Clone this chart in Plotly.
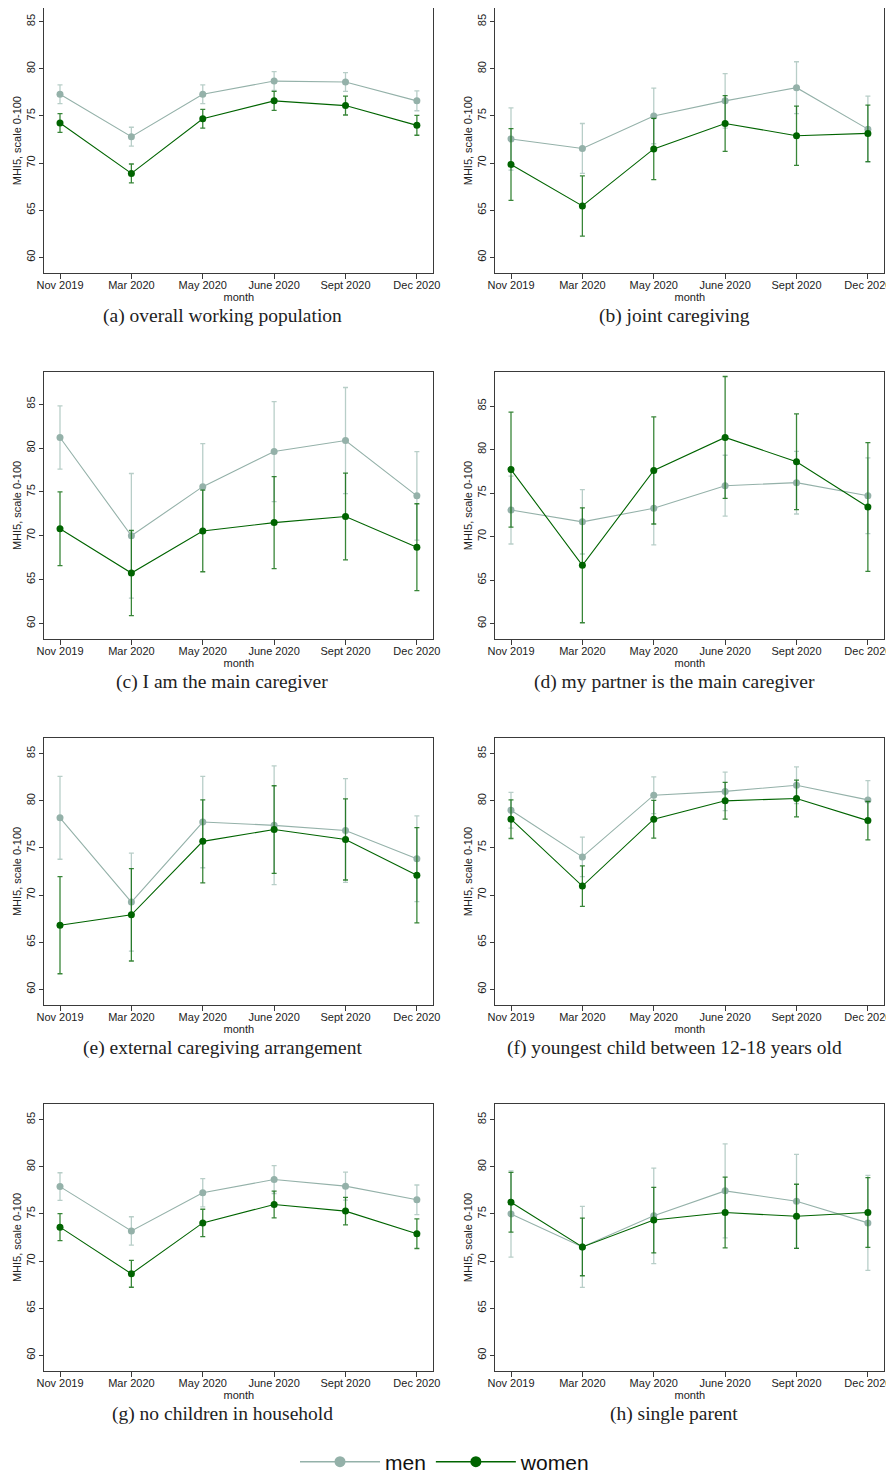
import plotly.graph_objects as go

PAGE_W, PAGE_H = 894, 1476
OFF = 8  # default page body margin
W, H = PAGE_W - OFF, PAGE_H - OFF

months = ["Nov 2019", "Mar 2020", "May 2020", "June 2020", "Sept 2020", "Dec 2020"]
captions = [
    "(a) overall working population",
    "(b) joint caregiving",
    "(c) I am the main caregiver",
    "(d) my partner is the main caregiver",
    "(e) external caregiving arrangement",
    "(f) youngest child between 12-18 years old",
    "(g) no children in household",
    "(h) single parent",
]

# mean MHI5 and 95% CI half-widths, men / women
a_men = [77.3, 72.8, 77.3, 78.7, 78.6, 76.6]
a_men_ci = [1.0, 1.0, 1.0, 1.0, 1.0, 1.05]
a_women = [74.25, 68.9, 74.7, 76.6, 76.1, 74.0]
a_women_ci = [1.0, 1.0, 1.0, 1.0, 1.0, 1.05]

b_men = [72.55, 71.55, 75.0, 76.6, 78.0, 73.6]
b_men_ci = [3.3, 2.65, 2.95, 2.9, 2.75, 3.5]
b_women = [69.85, 65.45, 71.5, 74.2, 72.9, 73.15]
b_women_ci = [3.8, 3.2, 3.25, 2.95, 3.15, 3.0]

c_men = [81.2, 70.0, 75.6, 79.6, 80.85, 74.55]
c_men_ci = [3.6, 7.1, 4.9, 5.7, 6.05, 5.05]
c_women = [70.8, 65.75, 70.55, 71.5, 72.2, 68.7]
c_women_ci = [4.2, 4.85, 4.65, 5.25, 4.95, 4.95]

d_men = [73.05, 71.7, 73.25, 75.85, 76.2, 74.7]
d_men_ci = [3.9, 3.7, 4.2, 3.5, 3.6, 4.35]
d_women = [77.7, 66.7, 77.6, 81.4, 78.6, 73.4]
d_women_ci = [6.6, 6.6, 6.15, 7.0, 5.5, 7.4]

e_men = [78.2, 69.25, 77.75, 77.4, 76.85, 73.85]
e_men_ci = [4.4, 5.2, 4.85, 6.3, 5.5, 4.55]
e_women = [66.8, 67.9, 75.7, 76.95, 75.9, 72.1]
e_women_ci = [5.15, 4.9, 4.4, 4.65, 4.3, 5.05]

f_men = [79.0, 74.05, 80.6, 81.0, 81.65, 80.1]
f_men_ci = [1.9, 2.1, 1.95, 2.05, 1.95, 2.05]
f_women = [78.05, 70.95, 78.05, 80.0, 80.25, 77.9]
f_women_ci = [2.05, 2.15, 2.0, 1.95, 1.95, 2.05]

g_men = [77.9, 73.2, 77.25, 78.65, 77.95, 76.5]
g_men_ci = [1.47, 1.5, 1.5, 1.48, 1.48, 1.57]
g_women = [73.6, 68.65, 74.05, 76.0, 75.3, 72.9]
g_women_ci = [1.43, 1.43, 1.45, 1.42, 1.45, 1.57]

h_men = [75.0, 71.5, 74.8, 77.45, 76.35, 74.05]
h_men_ci = [4.58, 4.3, 5.07, 4.98, 4.98, 5.04]
h_women = [76.25, 71.5, 74.35, 75.15, 74.75, 75.15]
h_women_ci = [3.17, 3.06, 3.48, 3.75, 3.4, 3.7]

panels = [
    (a_men, a_men_ci, a_women, a_women_ci),
    (b_men, b_men_ci, b_women, b_women_ci),
    (c_men, c_men_ci, c_women, c_women_ci),
    (d_men, d_men_ci, d_women, d_women_ci),
    (e_men, e_men_ci, e_women, e_women_ci),
    (f_men, f_men_ci, f_women, f_women_ci),
    (g_men, g_men_ci, g_women, g_women_ci),
    (h_men, h_men_ci, h_women, h_women_ci),
]
y_ranges = [[58.3, 86.7], [58.3, 86.7], [58.2, 88.7], [58.2, 88.95],
            [58.3, 86.7], [58.3, 86.7], [58.3, 86.7], [58.3, 86.7]]
y_ticks = [60, 65, 70, 75, 80, 85]

MEN = "#94b1a9"
MEN_ERR = "rgba(160,190,182,0.75)"
WOMEN = "#006400"
WOMEN_ERR = "rgba(0,100,0,0.78)"
AXIS = "#3a3a3a"
FONT = "Liberation Sans, Arial, sans-serif"
SERIF = "Liberation Serif, Times New Roman, serif"


def px(x):
    return min(max((x - OFF) / W, 0.0), 1.0)


def py(y):
    return min(max(1 - (y - OFF) / H, 0.0), 1.0)


col_x = [(44.3, 433.3), (495.3, 884.3)]
row_top = [0, 366, 732, 1098]
plot_top, plot_bot = 5.7, 273.3

fig = go.Figure()
x_idx = list(range(len(months)))
annotations = []

for i, (m, mci, w, wci) in enumerate(panels):
    r, c = divmod(i, 2)
    n = i + 1
    xa = "x" if n == 1 else f"x{n}"
    ya = "y" if n == 1 else f"y{n}"
    for vals, ci, col, ecol, name in [(m, mci, MEN, MEN_ERR, "men"), (w, wci, WOMEN, WOMEN_ERR, "women")]:
        fig.add_trace(go.Scatter(
            x=x_idx, y=vals, mode="lines+markers", name=name, showlegend=False,
            xaxis=xa, yaxis=ya,
            line=dict(color=col, width=1.1),
            marker=dict(color=col, size=7),
            error_y=dict(type="data", array=ci, symmetric=True, color=ecol,
                         thickness=1.3, width=2.5),
        ))
    x0, x1 = col_x[c]
    t = row_top[r] + plot_top
    b = row_top[r] + plot_bot
    lo, hi = y_ranges[i]
    if t < OFF:  # top row cannot start above the page margin: trim range accordingly
        hi = hi - (OFF - t) * (hi - lo) / (b - t)
        t = OFF
    axis_common = dict(showline=True, linecolor=AXIS, linewidth=1.2, mirror=True,
                       showgrid=False, zeroline=False, ticks="outside", automargin=False,
                       ticklabeloverflow="allow",
                       tickcolor=AXIS, tickfont=dict(family=FONT, size=11, color="#222"))
    fig.update_layout(**{
        ("xaxis" if n == 1 else f"xaxis{n}"): dict(
            domain=[px(x0), px(x1)], anchor=ya, range=[-0.22, 5.23],
            tickmode="array", tickvals=x_idx, ticktext=months, ticklen=5,
            ticklabelstandoff=-4,
            title=dict(text="month", font=dict(family=FONT, size=11, color="#222"), standoff=1),
            **axis_common),
        ("yaxis" if n == 1 else f"yaxis{n}"): dict(
            domain=[py(b), py(t)], anchor=xa, range=[lo, hi],
            tickmode="array", tickvals=y_ticks, ticklen=4, tickangle=-90,
            title=dict(text="MHI5, scale 0-100", font=dict(family=FONT, size=11, color="#222"), standoff=0),
            **axis_common),
    })
    cap_x = 222 if c == 0 else 447 + 227
    annotations.append(dict(
        text=captions[i], x=px(cap_x), y=py(row_top[r] + 316),
        xref="paper", yref="paper", xanchor="center", yanchor="middle",
        showarrow=False, font=dict(family=SERIF, size=19.5, color="#222")))

# legend entries
fig.add_trace(go.Scatter(x=[None], y=[None], mode="lines+markers", name="men",
                         line=dict(color=MEN, width=1.5), marker=dict(color=MEN, size=11)))
fig.add_trace(go.Scatter(x=[None], y=[None], mode="lines+markers", name="women",
                         line=dict(color=WOMEN, width=1.5), marker=dict(color=WOMEN, size=11)))

fig.update_layout(
    width=W, height=H, margin=dict(l=0, r=0, t=0, b=0, autoexpand=False),
    paper_bgcolor="white", plot_bgcolor="white",
    annotations=annotations,
    showlegend=True,
    legend=dict(orientation="h", x=px(445), xanchor="center", y=py(1462), yanchor="middle",
                itemwidth=80, font=dict(family=FONT, size=21, color="#111"),
                tracegroupgap=0, itemclick=False),
)

fig.write_html("out.html")
